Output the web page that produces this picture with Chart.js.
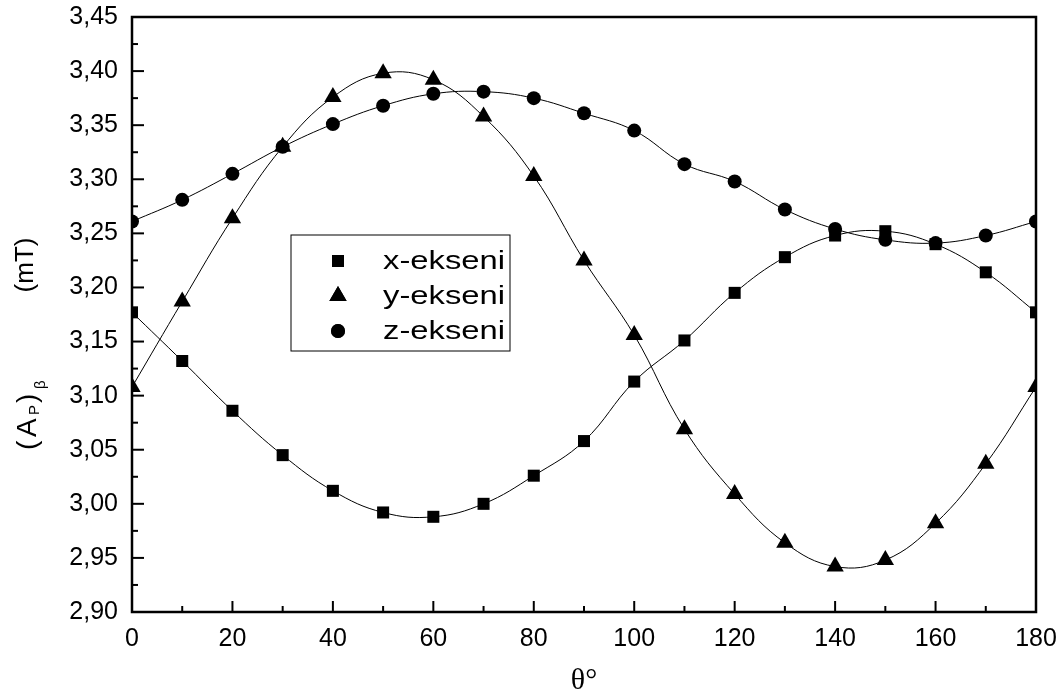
<!DOCTYPE html>
<html>
<head>
<meta charset="utf-8">
<script src="https://cdn.jsdelivr.net/npm/chart.js@4.4.1/dist/chart.umd.min.js"></script>
<style>
  body { margin: 0; background: #fff; }
  #wrap { width: 1063px; height: 699px; }
</style>
</head>
<body>
<div id="wrap"><canvas id="chart" width="1063" height="699"></canvas></div>
<script>
// angle (degrees)
const angles = [0, 10, 20, 30, 40, 50, 60, 70, 80, 90, 100, 110, 120, 130, 140, 150, 160, 170, 180];

// (A_P)_beta values in mT
const xEkseni = [3.177, 3.132, 3.086, 3.045, 3.012, 2.992, 2.988, 3.000, 3.026, 3.058, 3.113, 3.151, 3.195, 3.228, 3.248, 3.252, 3.240, 3.214, 3.177];
const yEkseni = [3.108, 3.187, 3.264, 3.330, 3.376, 3.398, 3.392, 3.358, 3.303, 3.225, 3.156, 3.069, 3.009, 2.964, 2.942, 2.948, 2.982, 3.037, 3.108];
const zEkseni = [3.261, 3.281, 3.305, 3.330, 3.351, 3.368, 3.379, 3.381, 3.375, 3.361, 3.345, 3.314, 3.298, 3.272, 3.254, 3.244, 3.241, 3.248, 3.261];

const seriesNames = ["x-ekseni", "y-ekseni", "z-ekseni"];
const seriesStyles = ["rect", "triangle", "circle"];

const xTicks = [0, 20, 40, 60, 80, 100, 120, 140, 160, 180];
const xMinorTicks = [10, 30, 50, 70, 90, 110, 130, 150, 170];
const yTicks = [2.90, 2.95, 3.00, 3.05, 3.10, 3.15, 3.20, 3.25, 3.30, 3.35, 3.40, 3.45];
const yMinorTicks = [2.925, 2.975, 3.025, 3.075, 3.125, 3.175, 3.225, 3.275, 3.325, 3.375, 3.425];

const FONT = "'Liberation Sans', Arial, sans-serif";
const radii = { rect: 8.5, triangle: 10, circle: 7 };

function toPoints(values) {
  return angles.map((a, i) => ({ x: a, y: values[i] }));
}

const datasets = [xEkseni, yEkseni, zEkseni].map((vals, i) => ({
  label: seriesNames[i],
  data: toPoints(vals),
  borderColor: "#000",
  backgroundColor: "#000",
  borderWidth: 1,
  pointStyle: seriesStyles[i],
  pointRadius: radii[seriesStyles[i]],
  pointBorderWidth: 0,
  tension: 0.4,
  clip: 0
}));

// frame, inward ticks, axis titles, legend box
const decorations = {
  id: "decorations",
  afterDraw(chart) {
    const { ctx, chartArea: a, scales: { x, y } } = chart;
    ctx.save();
    ctx.strokeStyle = "#000";
    ctx.lineWidth = 2;
    yTicks.forEach(v => {
      const py = y.getPixelForValue(v);
      ctx.beginPath(); ctx.moveTo(a.left, py); ctx.lineTo(a.left + 12, py); ctx.stroke();
    });
    yMinorTicks.forEach(v => {
      const py = y.getPixelForValue(v);
      ctx.beginPath(); ctx.moveTo(a.left, py); ctx.lineTo(a.left + 6, py); ctx.stroke();
    });
    xTicks.forEach(v => {
      const px = x.getPixelForValue(v);
      ctx.beginPath(); ctx.moveTo(px, a.bottom); ctx.lineTo(px, a.bottom - 11); ctx.stroke();
    });
    xMinorTicks.forEach(v => {
      const px = x.getPixelForValue(v);
      ctx.beginPath(); ctx.moveTo(px, a.bottom); ctx.lineTo(px, a.bottom - 6); ctx.stroke();
    });
    ctx.lineWidth = 2.5;
    ctx.strokeRect(a.left, a.top, a.right - a.left, a.bottom - a.top);

    // y axis title: (A_P)_β   (mT)
    ctx.fillStyle = "#000";
    ctx.save();
    ctx.translate(36, 450);
    ctx.rotate(-Math.PI / 2);
    ctx.textBaseline = "alphabetic";
    ctx.textAlign = "left";
    ctx.font = "28px " + FONT;
    ctx.fillText("(", 0, 0);
    ctx.fillText("A", 13, 0);
    ctx.font = "15px " + FONT;
    ctx.fillText("P", 35, 3);
    ctx.font = "28px " + FONT;
    ctx.fillText(")", 47, 0);
    ctx.font = "15px " + FONT;
    ctx.fillText("β", 61, 9);
    ctx.font = "26px " + FONT;
    ctx.textAlign = "center";
    ctx.fillText("(mT)", 185, -3);
    ctx.restore();

    // x axis title
    ctx.font = "30px 'Liberation Serif', 'Times New Roman', serif";
    ctx.textAlign = "center";
    ctx.textBaseline = "middle";
    ctx.fillText("θ°", 584, 681);

    // legend
    ctx.lineWidth = 1;
    ctx.strokeRect(291, 235, 219, 116);
    const rows = [261, 296, 331];
    seriesNames.forEach((name, i) => {
      Chart.helpers.drawPoint(ctx, {
        pointStyle: seriesStyles[i],
        radius: radii[seriesStyles[i]],
        borderWidth: 0
      }, 338, rows[i]);
      ctx.fillStyle = "#000";
      ctx.fill();
      ctx.save();
      ctx.translate(383, rows[i] + 1);
      ctx.scale(1.26, 1);
      ctx.font = "26px " + FONT;
      ctx.textAlign = "left";
      ctx.textBaseline = "middle";
      ctx.fillText(name, 0, 0);
      ctx.restore();
    });
    ctx.restore();
  }
};

new Chart(document.getElementById("chart"), {
  type: "line",
  data: { datasets: datasets },
  options: {
    responsive: false,
    animation: false,
    layout: { padding: { top: 17, right: 27, left: 0, bottom: 0 } },
    plugins: { legend: { display: false }, tooltip: { enabled: false } },
    scales: {
      x: {
        type: "linear",
        min: 0,
        max: 180,
        grid: { display: false, drawTicks: false },
        border: { display: false },
        afterBuildTicks: s => { s.ticks = xTicks.map(v => ({ value: v })); },
        afterFit: s => { s.height = 87; s.paddingLeft = 0; s.paddingRight = 0; },
        ticks: {
          color: "#000",
          padding: 12,
          maxRotation: 0,
          font: { family: FONT, size: 25 }
        }
      },
      y: {
        type: "linear",
        min: 2.90,
        max: 3.45,
        grid: { display: false, drawTicks: false },
        border: { display: false },
        afterBuildTicks: s => { s.ticks = yTicks.map(v => ({ value: v })); },
        afterFit: s => { s.width = 132; s.paddingTop = 0; s.paddingBottom = 0; },
        ticks: {
          color: "#000",
          padding: 14,
          font: { family: FONT, size: 25 },
          callback: v => v.toFixed(2).replace(".", ",")
        }
      }
    }
  },
  plugins: [decorations]
});
</script>
</body>
</html>
